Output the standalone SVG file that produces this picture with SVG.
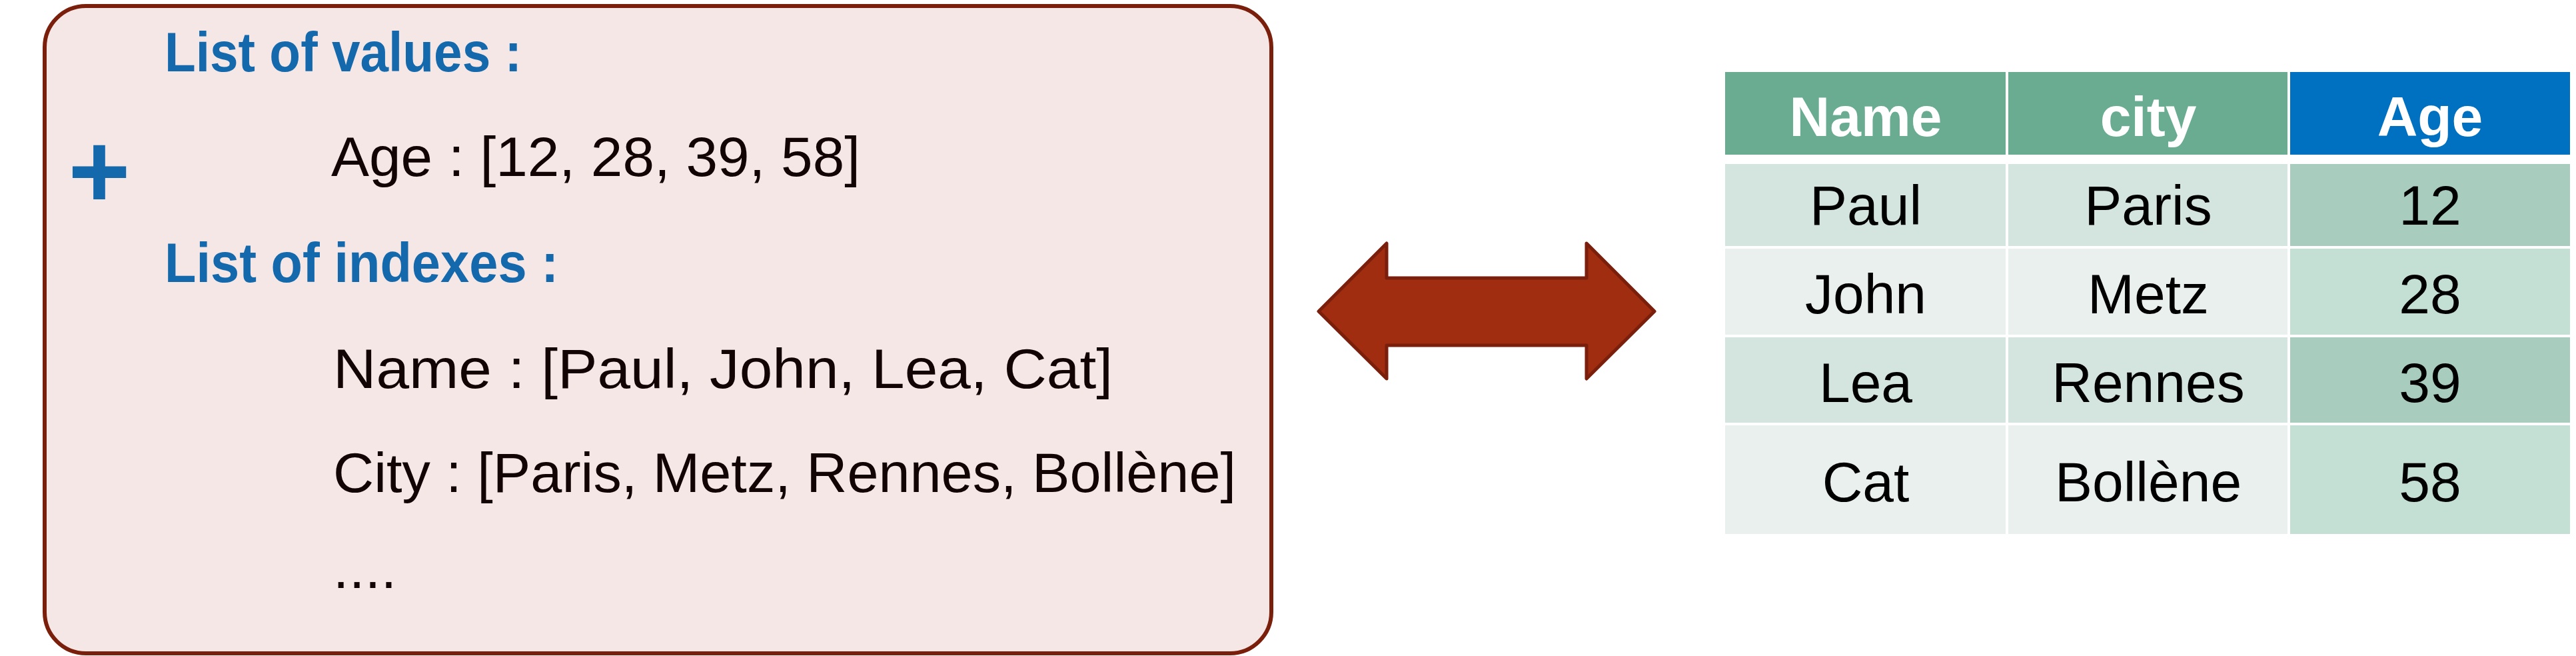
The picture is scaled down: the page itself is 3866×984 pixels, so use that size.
<svg xmlns="http://www.w3.org/2000/svg" width="3866" height="984" viewBox="0 0 3866 984">
  <style>
    .t { font-family: "Liberation Sans", Arial, sans-serif; }
    .head { font-family: "Liberation Sans", Arial, sans-serif; font-weight: bold; font-size: 84px; fill: #1469ad; }
    .body { font-family: "Liberation Sans", Arial, sans-serif; font-size: 84px; fill: #120404; }
    .th { font-family: "Liberation Sans", Arial, sans-serif; font-weight: bold; font-size: 84px; fill: #ffffff; text-anchor: middle; }
    .td { font-family: "Liberation Sans", Arial, sans-serif; font-size: 84px; fill: #000000; text-anchor: middle; }
    .g1 { fill: #6aac91; }
    .blue { fill: #0070c0; }
    .ra { fill: #d4e4de; }
    .rb { fill: #e9f0ee; }
    .aa { fill: #a8cdbf; }
    .ab { fill: #c4dfd4; }
  </style>

  <g id="series-box">
    <rect x="67" y="9" width="1841" height="971" rx="62" ry="62" fill="#f5e7e5" stroke="#7a1f0c" stroke-width="6"/>
    <text class="t" x="149" y="312" font-size="160" font-weight="bold" fill="#1469ad" text-anchor="middle">+</text>
    <text class="head" x="247" y="107" textLength="536" lengthAdjust="spacingAndGlyphs">List of values :</text>
    <text class="body" x="497" y="264" textLength="794" lengthAdjust="spacingAndGlyphs">Age : [12, 28, 39, 58]</text>
    <text class="head" x="247" y="423" textLength="591" lengthAdjust="spacingAndGlyphs">List of indexes :</text>
    <text class="body" x="500" y="582" textLength="1170" lengthAdjust="spacingAndGlyphs">Name : [Paul, John, Lea, Cat]</text>
    <text class="body" x="500" y="738" textLength="1355" lengthAdjust="spacingAndGlyphs">City : [Paris, Metz, Rennes, Bollène]</text>
    <text class="body" x="500" y="882" textLength="95" lengthAdjust="spacing">....</text>
  </g>

  <g id="connectors">
    <polygon id="double-arrow" points="1979,467 2081,365 2081,417 2381,417 2381,365 2483,467 2381,568 2381,518 2081,518 2081,568" fill="#a02d0f" stroke="#7a1f0c" stroke-width="5" stroke-linejoin="round"/>
  </g>

  <g id="dataframe-table">
    <rect class="g1" x="2589" y="108" width="421" height="124"/>
    <rect class="g1" x="3014" y="108" width="419" height="124"/>
    <rect class="blue" x="3437" y="108" width="420" height="124"/>
    <text class="th" x="2800" y="204">Name</text>
    <text class="th" x="3224" y="204">city</text>
    <text class="th" x="3647" y="204">Age</text>

    <rect class="ra" x="2589" y="246" width="421" height="123"/>
    <rect class="ra" x="3014" y="246" width="419" height="123"/>
    <rect class="aa" x="3437" y="246" width="420" height="123"/>
    <text class="td" x="2800" y="337">Paul</text>
    <text class="td" x="3224" y="337">Paris</text>
    <text class="td" x="3647" y="337">12</text>

    <rect class="rb" x="2589" y="373" width="421" height="129"/>
    <rect class="rb" x="3014" y="373" width="419" height="129"/>
    <rect class="ab" x="3437" y="373" width="420" height="129"/>
    <text class="td" x="2800" y="470">John</text>
    <text class="td" x="3224" y="470">Metz</text>
    <text class="td" x="3647" y="470">28</text>

    <rect class="ra" x="2589" y="506" width="421" height="128"/>
    <rect class="ra" x="3014" y="506" width="419" height="128"/>
    <rect class="aa" x="3437" y="506" width="420" height="128"/>
    <text class="td" x="2800" y="603">Lea</text>
    <text class="td" x="3224" y="603">Rennes</text>
    <text class="td" x="3647" y="603">39</text>

    <rect class="rb" x="2589" y="638" width="421" height="163"/>
    <rect class="rb" x="3014" y="638" width="419" height="163"/>
    <rect class="ab" x="3437" y="638" width="420" height="163"/>
    <text class="td" x="2800" y="752">Cat</text>
    <text class="td" x="3224" y="752">Bollène</text>
    <text class="td" x="3647" y="752">58</text>
  </g>
</svg>
